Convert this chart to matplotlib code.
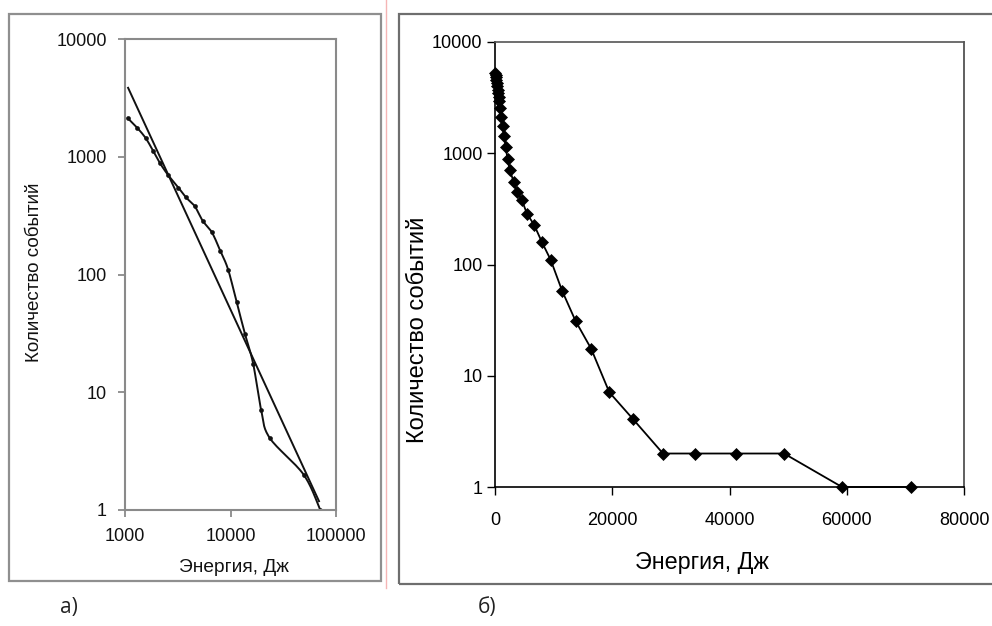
import numpy as np
import matplotlib
matplotlib.use("Agg")
import matplotlib.pyplot as plt
from matplotlib.patches import Rectangle
from matplotlib.lines import Line2D
from matplotlib.ticker import FixedLocator, NullLocator, FixedFormatter

plt.rcParams['font.family'] = ['Liberation Sans', 'DejaVu Sans']

# Cumulative number of events with energy above E
energy_j = [60, 110, 160, 220, 290, 360, 430, 510, 600, 700, 850,
            1060, 1300, 1570, 1840, 2150, 2560, 3200, 3780, 4580, 5450,
            6660, 8000, 9500, 11450, 13750, 16400, 19500, 23500,
            28660, 34120, 41100, 49300, 59190, 70960]
event_count = [5300, 5100, 4850, 4600, 4300, 4000, 3700, 3450, 3200, 2950, 2550,
               2130, 1770, 1440, 1130, 880, 700, 548, 452, 380, 286,
               228, 159, 110, 58, 31, 17.5, 7.1, 4.1,
               2, 2, 2, 2, 1, 1]

# Power-law fit N = A * E^b shown on the log-log panel
fit_coef = 2.9e9
fit_exp = -1.94
fit_range = [1070, 69000]

log_x_ticks = [1000, 10000, 100000]
log_y_ticks = [1, 10, 100, 1000, 10000]
lin_x_ticks = [0, 20000, 40000, 60000, 80000]

panel_labels = ['а)', 'б)']
xlabel = 'Энергия, Дж'
ylabel = 'Количество событий'

W, H = 992, 626
fig = plt.figure(figsize=(W / 100, H / 100), dpi=100)


def fx(px):
    return px / W


def fy(py):
    return 1 - py / H


def frame(x0, y0, x1, y1, color, lw):
    fig.add_artist(Rectangle((fx(x0), fy(y1)), fx(x1) - fx(x0), fy(y0) - fy(y1),
                             transform=fig.transFigure, fill=False,
                             edgecolor=color, linewidth=lw))


def smooth_path(lx, ly, steps=16):
    """Catmull-Rom (Bezier) smoothing of a polyline, as a spreadsheet 'smoothed line'."""
    px = np.concatenate([[lx[0]], lx, [lx[-1]]])
    py = np.concatenate([[ly[0]], ly, [ly[-1]]])
    out_x, out_y = [], []
    t = np.linspace(0, 1, steps, endpoint=False)
    for i in range(1, len(px) - 2):
        p0x, p1x, p2x, p3x = px[i - 1], px[i], px[i + 1], px[i + 2]
        p0y, p1y, p2y, p3y = py[i - 1], py[i], py[i + 1], py[i + 2]
        c1x, c1y = p1x + (p2x - p0x) / 6, p1y + (p2y - p0y) / 6
        c2x, c2y = p2x - (p3x - p1x) / 6, p2y - (p3y - p1y) / 6
        b0, b1, b2, b3 = (1 - t) ** 3, 3 * t * (1 - t) ** 2, 3 * t ** 2 * (1 - t), t ** 3
        out_x.extend(b0 * p1x + b1 * c1x + b2 * c2x + b3 * p2x)
        out_y.extend(b0 * p1y + b1 * c1y + b2 * c2y + b3 * p2y)
    out_x.append(lx[-1])
    out_y.append(ly[-1])
    return np.array(out_x), np.array(out_y)


# Panel frames and separator
frame(9, 14, 381, 581, '#8f8f8f', 1.6)
frame(399, 14, 995, 584, '#6e6e6e', 1.6)
fig.add_artist(Line2D([fx(386), fx(386)], [fy(0), fy(588)], transform=fig.transFigure,
                      color='#f5b5b5', linewidth=1.0))

E = np.array(energy_j, dtype=float)
N = np.array(event_count, dtype=float)

# ---- Panel (а): log-log with power-law fit ----
axL = fig.add_axes([fx(125), fy(510), fx(336) - fx(125), fy(39) - fy(510)])
axL.set_xscale('log')
axL.set_yscale('log')
axL.set_xlim(1000, 100000)
axL.set_ylim(1, 10000)

keep = [i for i in range(len(E))
        if E[i] >= 1000 and (i == len(E) - 1 or N[i] != N[i + 1])]
sx, sy = smooth_path(np.log10(E[keep]), np.log10(N[keep]))
axL.plot(10 ** sx, 10 ** sy, color='#111111', linewidth=1.4)
axL.plot(E[keep], N[keep], linestyle='none', marker='o', markersize=3.4,
         markerfacecolor='#111111', markeredgewidth=0)
fe = np.array(fit_range, dtype=float)
axL.plot(fe, fit_coef * fe ** fit_exp, color='#111111', linewidth=1.4)

axL.xaxis.set_major_locator(FixedLocator(log_x_ticks))
axL.yaxis.set_major_locator(FixedLocator(log_y_ticks))
axL.xaxis.set_major_formatter(FixedFormatter([str(v) for v in log_x_ticks]))
axL.yaxis.set_major_formatter(FixedFormatter([str(v) for v in log_y_ticks]))
axL.xaxis.set_minor_locator(NullLocator())
axL.yaxis.set_minor_locator(NullLocator())
for s in axL.spines.values():
    s.set_color('#8a8a8a')
    s.set_linewidth(1.5)
axL.tick_params(axis='both', direction='out', length=5, width=1.3, color='#8a8a8a',
                labelsize=13, labelcolor='#111111')
axL.tick_params(axis='x', pad=8)
axL.tick_params(axis='y', pad=8)
fig.text(fx(234), fy(567), xlabel, ha='center', va='center', fontsize=13.8, color='#111111')
fig.text(fx(35), fy(272), ylabel, ha='center', va='center', rotation=90,
         fontsize=13.5, color='#111111')

# ---- Panel (б): linear energy, log count ----
axR = fig.add_axes([fx(495), fy(487), fx(964) - fx(495), fy(42) - fy(487)])
axR.set_yscale('log')
axR.set_xlim(0, 80000)
axR.set_ylim(1, 10000)
axR.plot(E, N, color='black', linewidth=1.3, marker='D', markersize=6.5,
         markerfacecolor='black', markeredgecolor='black', markeredgewidth=0.5,
         clip_on=False)
axR.xaxis.set_major_locator(FixedLocator(lin_x_ticks))
axR.yaxis.set_major_locator(FixedLocator(log_y_ticks))
axR.xaxis.set_major_formatter(FixedFormatter([str(v) for v in lin_x_ticks]))
axR.yaxis.set_major_formatter(FixedFormatter([str(v) for v in log_y_ticks]))
axR.yaxis.set_minor_locator(NullLocator())
axR.spines['left'].set_color('black')
axR.spines['bottom'].set_color('black')
axR.spines['top'].set_color('#555555')
axR.spines['right'].set_color('#444444')
for s in axR.spines.values():
    s.set_linewidth(1.2)
axR.tick_params(axis='both', direction='out', length=6, width=1.0, color='black',
                labelsize=13, labelcolor='black')
axR.tick_params(axis='x', pad=12)
axR.tick_params(axis='y', pad=3)
fig.text(fx(702), fy(562), xlabel, ha='center', va='center', fontsize=16.8, color='black')
fig.text(fx(418), fy(330), ylabel, ha='center', va='center', rotation=90,
         fontsize=17, color='black')

# Panel captions
fig.text(fx(69), fy(608), panel_labels[0], ha='center', va='center', fontsize=15,
         family=['Open Sans', 'DejaVu Sans'], color='#222222')
fig.text(fx(487), fy(608), panel_labels[1], ha='center', va='center', fontsize=15,
         family=['Open Sans', 'DejaVu Sans'], color='#222222')

fig.savefig('out.png', dpi=100, facecolor='white')
